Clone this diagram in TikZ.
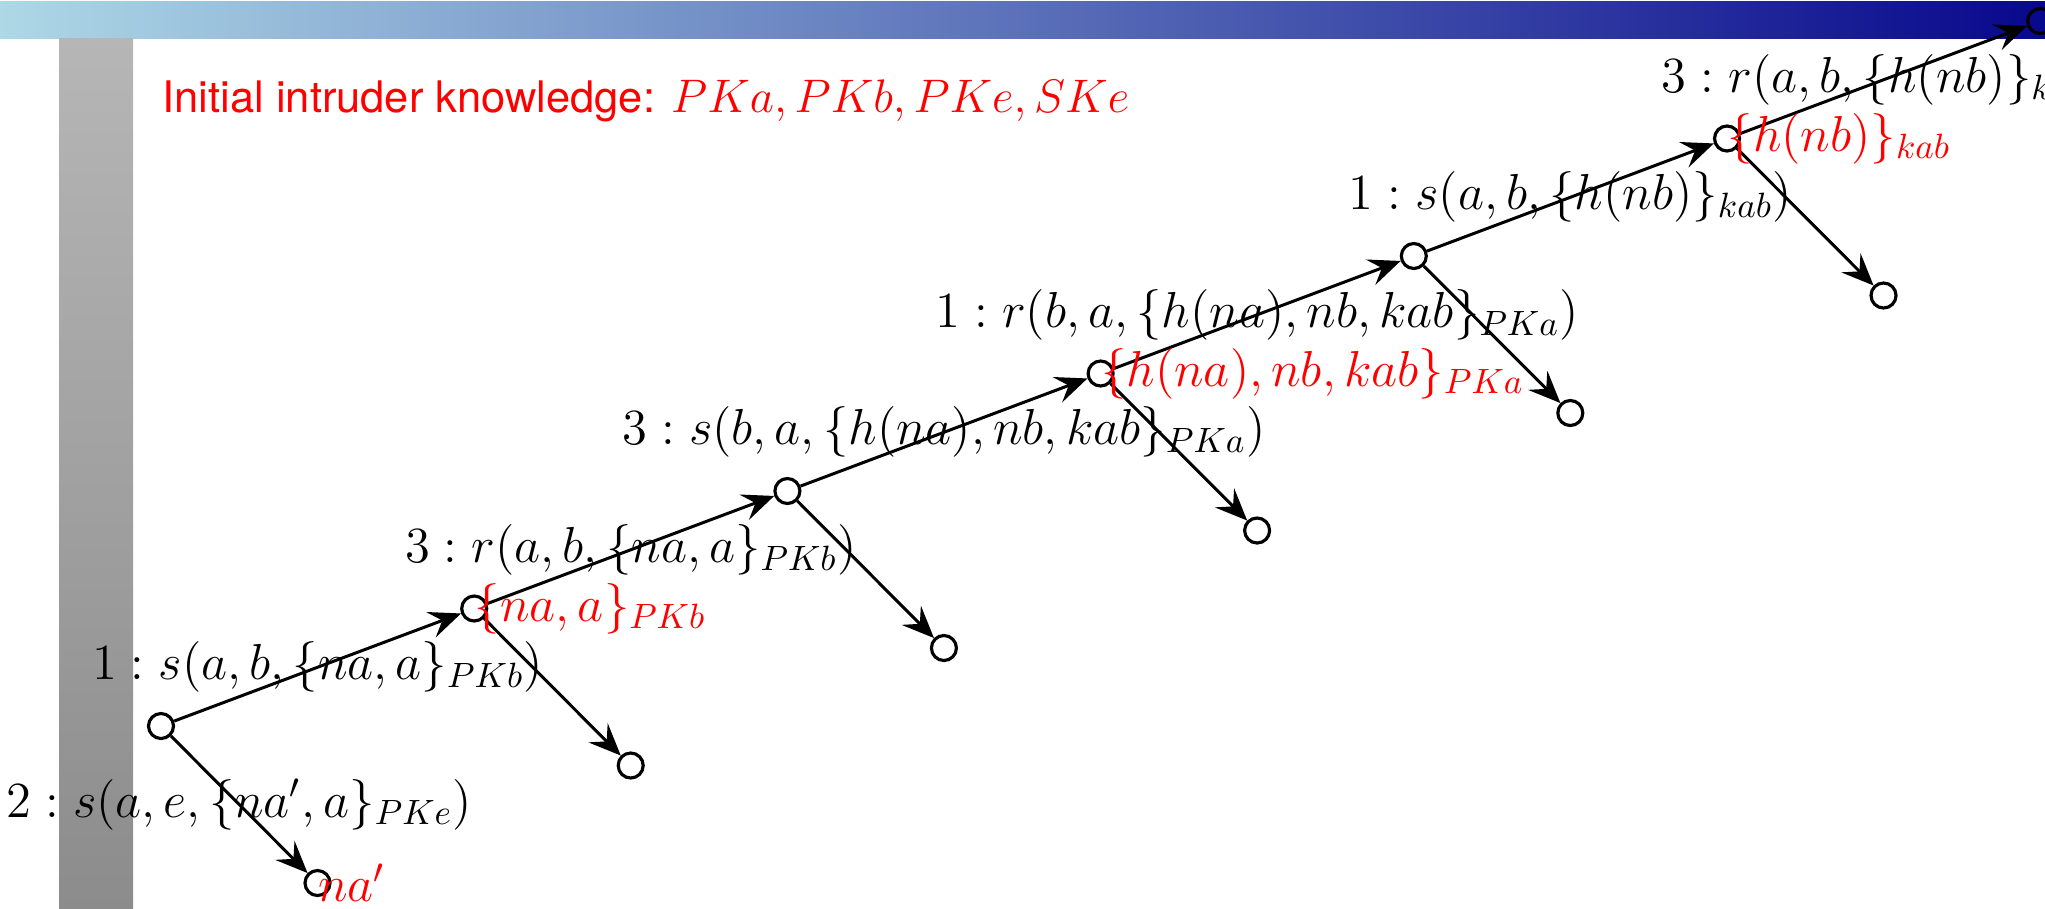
\documentclass[tikz,border=0pt]{standalone}
\usepackage{fontspec}
\newfontfamily\headfont{TeX Gyre Heros}
\usepackage{tikz}
\usetikzlibrary{arrows.meta,positioning}
\definecolor{barlight}{RGB}{173,216,230}
\definecolor{bardark}{RGB}{8,8,140}
\definecolor{sidelight}{RGB}{182,182,182}
\definecolor{sidedark}{RGB}{140,140,140}

\begin{document}
\begin{tikzpicture}[
  font=\fontsize{14.4}{17}\selectfont,
  node distance=1.175cm and 3.132cm, on grid,
  st/.style={circle, draw, line width=0.9pt, minimum size=2.5mm, inner sep=0pt},
  arr/.style={-{Stealth[length=3.2mm, width=2.7mm, inset=1.2mm]}, line width=0.85pt},
  kn/.style={red, anchor=west, inner sep=0pt}
]
\useasboundingbox (0,0) rectangle (20.45,9.08);
\clip (0,0) rectangle (20.45,9.08);
% slide background
\shade[left color=barlight, right color=bardark] (0,8.70) rectangle (20.45,9.063);
\shade[top color=sidelight, bottom color=sidedark] (0.59,0) rectangle (1.33,8.70);

\node[red, anchor=base west, inner sep=0pt, scale=0.93, transform shape] (init) at (1.62,7.96)
  {{\fontsize{13.3}{16}\headfont Initial intruder knowledge: }$PKa, PKb, PKe, SKe$};

% trace
\node[st] (n1) at (1.61,1.82) {};
\node[st, above right=of n1] (n2) {};
\node[st, above right=of n2] (n3) {};
\node[st, above right=of n3] (n4) {};
\node[st, above right=of n4] (n5) {};
\node[st, above right=of n5] (n6) {};
\node[st, above right=of n6] (n7) {};
\node[st, below right=1.57cm and 1.565cm of n1] (c1) {};
\node[st, below right=1.57cm and 1.565cm of n2] (c2) {};
\node[st, below right=1.57cm and 1.565cm of n3] (c3) {};
\node[st, below right=1.57cm and 1.565cm of n4] (c4) {};
\node[st, below right=1.57cm and 1.565cm of n5] (c5) {};
\node[st, below right=1.57cm and 1.565cm of n6] (c6) {};

\draw[arr] (n1) -- (n2) node[midway] {$1:s(a,b,\{na,a\}_{PKb})$};
\draw[arr] (n1) -- (c1) node[midway] {$2:s(a,e,\{na',a\}_{PKe})$};
\draw[arr] (n2) -- (n3) node[midway] {$3:r(a,b,\{na,a\}_{PKb})$};
\draw[arr] (n2) -- (c2);
\draw[arr] (n3) -- (n4) node[midway] {$3:s(b,a,\{h(na),nb,kab\}_{PKa})$};
\draw[arr] (n3) -- (c3);
\draw[arr] (n4) -- (n5) node[midway] {$1:r(b,a,\{h(na),nb,kab\}_{PKa})$};
\draw[arr] (n4) -- (c4);
\draw[arr] (n5) -- (n6) node[midway] {$1:s(a,b,\{h(nb)\}_{kab})$};
\draw[arr] (n5) -- (c5);
\draw[arr] (n6) -- (n7) node[midway] {$3:r(a,b,\{h(nb)\}_{kab})$};
\draw[arr] (n6) -- (c6);

% what the intruder has learnt
\node[kn] at (c1.center) {$na'$};
\node[kn] at (n2.center) {$\{na,a\}_{PKb}$};
\node[kn] at (n4.center) {$\{h(na),nb,kab\}_{PKa}$};
\node[kn] at (n6.center) {$\{h(nb)\}_{kab}$};
\end{tikzpicture}
\end{document}
